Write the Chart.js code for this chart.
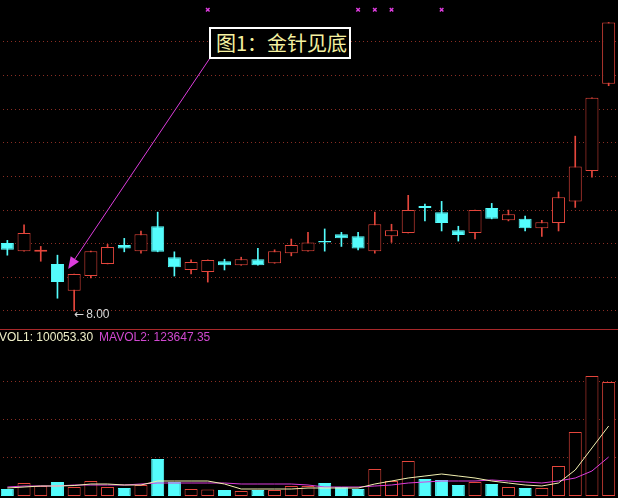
<!DOCTYPE html>
<html lang="zh-CN">
<head>
<meta charset="utf-8">
<title>金针见底</title>
<script src="https://cdn.jsdelivr.net/npm/chart.js@4.4.1/dist/chart.umd.min.js"></script>
<style>
  html, body { margin: 0; padding: 0; background: #000; }
  #quadro { position: relative; width: 618px; height: 498px; overflow: hidden; background: #000; }
  #graficoPreco { position: absolute; left: -1px; top: 0; }
  #graficoVolume { position: absolute; left: -1px; top: 330px; }
  #separador { position: absolute; left: 0; top: 329px; width: 618px; height: 1px; background: #a8282a; }
  #legendaVolume { position: absolute; left: -1px; top: 331px; font: 12px "Liberation Sans", Arial, sans-serif; line-height: 13px; white-space: nowrap; }
  #legendaVolume .ma1 { color: #f0f0c8; }
  #legendaVolume .ma2 { color: #d048d0; margin-left: 6px; }
  #rotulo { position: absolute; left: 209px; top: 27px; width: 142px; height: 32px; box-sizing: border-box; border: 2px solid #fff; background: #000; color: #f6f2a0; font: 20px "Noto Sans CJK SC", sans-serif; line-height: 28px; padding-left: 5px; white-space: nowrap; }
</style>
</head>
<body>
<div id="quadro">
  <canvas id="graficoPreco" width="618" height="329"></canvas>
  <div id="separador"></div>
  <canvas id="graficoVolume" width="618" height="168"></canvas>
  <div id="legendaVolume"><span class="ma1">VOL1: 100053.30</span><span class="ma2">MAVOL2: 123647.35</span></div>
  <div id="rotulo">图1：金针见底</div>
</div>
<script>
// Dados (37 pregões)
var dias = ['1', '2', '3', '4', '5', '6', '7', '8', '9', '10', '11', '12', '13', '14', '15', '16', '17', '18', '19',
    '20', '21', '22', '23', '24', '25', '26', '27', '28', '29', '30', '31', '32', '33', '34', '35', '36', '37'];

var abertura = [9.01, 8.89, 8.88, 8.70, 8.30, 8.52, 8.70, 8.98, 8.89, 9.26, 8.80, 8.61, 8.58, 8.74, 8.68, 8.77, 8.71, 8.86, 8.89,
    9.04, 9.14, 9.11, 8.89, 9.11, 9.16, 9.56, 9.47, 9.20, 9.16, 9.53, 9.35, 9.37, 9.23, 9.31, 9.63, 10.08, 11.38];
var fechamento = [8.91, 9.16, 8.91, 8.43, 8.55, 8.89, 8.95, 8.93, 9.14, 8.88, 8.65, 8.73, 8.76, 8.68, 8.77, 8.68, 8.89, 8.98, 9.02,
    9.02, 9.08, 8.93, 9.29, 9.20, 9.50, 9.53, 9.31, 9.13, 9.50, 9.37, 9.44, 9.23, 9.32, 9.69, 10.15, 11.17, 12.29];
var maxima = [9.05, 9.28, 8.96, 8.83, 8.55, 8.89, 8.99, 9.08, 9.19, 9.47, 8.88, 8.76, 8.76, 8.77, 8.80, 8.93, 8.91, 9.07, 9.17,
    9.22, 9.17, 9.17, 9.47, 9.29, 9.72, 9.59, 9.63, 9.26, 9.50, 9.60, 9.50, 9.41, 9.35, 9.77, 10.60, 11.17, 12.29];
var minima = [8.83, 8.89, 8.74, 8.19, 8.00, 8.49, 8.70, 8.88, 8.86, 8.88, 8.52, 8.55, 8.43, 8.61, 8.68, 8.68, 8.71, 8.82, 8.89,
    8.89, 8.96, 8.91, 8.86, 9.02, 9.16, 9.34, 9.19, 9.04, 9.07, 9.37, 9.34, 9.19, 9.11, 9.19, 9.54, 9.99, 11.35];

var volume = [73500, 136500, 105000, 147000, 94500, 157500, 94500, 84000, 115500, 388500, 147000, 73500, 68300, 63000, 52500,
    63000, 63000, 105000, 105000, 136500, 94500, 73500, 283500, 157500, 367500, 178500, 168000, 115500, 147000, 126000,
    94500, 84000, 84000, 315000, 672000, 1260000, 1197000];
var mavol1 = [84000, 94500, 105000, 105000, 110000, 126000, 126000, 115500, 115500, 157500, 157500, 157500, 157500, 126000,
    73500, 73500, 73500, 73500, 84000, 84000, 84000, 84000, 126000, 157500, 189000, 210000, 231000, 210000, 189000,
    157500, 136500, 115500, 105000, 136500, 273000, 504000, 735000];
var mavol2 = [94500, 105000, 105000, 105000, 115500, 115500, 115500, 115500, 126000, 136500, 136500, 136500, 136500, 136500,
    126000, 126000, 126000, 126000, 115500, 94500, 94500, 94500, 105000, 115500, 136500, 147000, 157500, 157500, 157500,
    168000, 157500, 147000, 136500, 157500, 189000, 262500, 409500];

var sinais = [12, 21, 22, 23, 26];      // marcadores × no topo
var nivelSinal = 12.48;
var indiceAgulha = 4;                    // o dia do 金针见底
var linhasPreco = [8, 8.5, 9, 9.5, 10, 10.5, 11, 11.5, 12];
var linhasVolume = [400000, 800000, 1200000];

var vermelho = '#e4463c';
var ciano = '#54fcfc';
var magenta = '#dc3cdc';
var corGrade = '#8a2e24';

var alta = fechamento.map((f, i) => f >= abertura[i]);

// seta magenta do quadro até o candle + rótulo da mínima
var setaAgulha = {
    id: 'setaAgulha',
    afterDatasetsDraw(chart) {
        var ctx = chart.ctx;
        var x = chart.scales.x, y = chart.scales.y;
        var cx = x.getPixelForValue(indiceAgulha);
        var pontaX = cx - 6, pontaY = y.getPixelForValue(maxima[indiceAgulha]) - 5;
        var inicioX = 211, inicioY = 58;
        var ang = Math.atan2(pontaY - inicioY, pontaX - inicioX);
        var c = Math.cos(ang), s = Math.sin(ang);

        ctx.save();
        ctx.strokeStyle = magenta;
        ctx.fillStyle = magenta;
        ctx.lineWidth = 1;
        ctx.beginPath();
        ctx.moveTo(inicioX, inicioY);
        ctx.lineTo(pontaX - 10 * c, pontaY - 10 * s);
        ctx.stroke();
        ctx.beginPath();
        ctx.moveTo(pontaX, pontaY);
        ctx.lineTo(pontaX - 12 * c + 5 * s, pontaY - 12 * s - 5 * c);
        ctx.lineTo(pontaX - 12 * c - 5 * s, pontaY - 12 * s + 5 * c);
        ctx.closePath();
        ctx.fill();

        // rótulo "←8.00" embaixo da agulha
        var yMin = y.getPixelForValue(minima[indiceAgulha]) + 4;
        ctx.fillStyle = '#d8d8d8';
        ctx.textBaseline = 'middle';
        ctx.font = '12px "DejaVu Sans", sans-serif';
        ctx.fillText('←', cx, yMin);
        ctx.font = '12px "Liberation Sans", Arial, sans-serif';
        ctx.fillText(minima[indiceAgulha].toFixed(2), cx + 12, yMin);
        ctx.restore();
    }
};

function eixoY(min, max, linhas) {
    return {
        min: min,
        max: max,
        afterBuildTicks: function(eixo) { eixo.ticks = linhas.map(v => ({ value: v })); },
        afterFit: function(eixo) { eixo.width = 0; },
        ticks: { display: false },
        grid: { color: corGrade, drawTicks: false },
        border: { display: false, dash: [1, 3] }
    };
}

// gráfico de candles
new Chart(document.getElementById('graficoPreco'), {
    type: 'bar',
    data: {
        labels: dias,
        datasets: [
            {
                type: 'line',
                data: dias.map((d, i) => sinais.includes(i) ? nivelSinal : null),
                showLine: false,
                pointStyle: 'crossRot',
                pointRadius: 2.5,
                pointBorderWidth: 1.5,
                pointBorderColor: magenta,
                pointBackgroundColor: magenta,
                order: 0
            },
            {
                data: abertura.map((a, i) => [a, fechamento[i]]),
                backgroundColor: alta.map(u => u ? '#000' : ciano),
                borderColor: alta.map(u => u ? vermelho : ciano),
                borderWidth: 1,
                borderSkipped: false,
                inflateAmount: 0,
                barThickness: 13,
                grouped: false,
                order: 1
            },
            {
                data: minima.map((m, i) => [m, maxima[i]]),
                backgroundColor: alta.map(u => u ? vermelho : ciano),
                borderWidth: 0,
                barThickness: 1,
                grouped: false,
                order: 2
            }
        ]
    },
    options: {
        responsive: false,
        animation: false,
        events: [],
        layout: { padding: 0, autoPadding: false },
        plugins: { legend: { display: false }, tooltip: { enabled: false } },
        scales: {
            x: { display: false },
            y: eixoY(7.7323, 12.6245, linhasPreco)
        }
    },
    plugins: [setaAgulha]
});

// gráfico de volume
new Chart(document.getElementById('graficoVolume'), {
    type: 'bar',
    data: {
        labels: dias,
        datasets: [
            { type: 'line', data: mavol1, borderColor: '#f2f0b0', borderWidth: 1, pointRadius: 0, tension: 0, order: 0 },
            { type: 'line', data: mavol2, borderColor: magenta, borderWidth: 1, pointRadius: 0, tension: 0, order: 1 },
            {
                data: volume,
                backgroundColor: alta.map(u => u ? '#000' : ciano),
                borderColor: alta.map(u => u ? vermelho : ciano),
                borderWidth: 1,
                borderSkipped: false,
                inflateAmount: 0,
                barThickness: 13,
                order: 2
            }
        ]
    },
    options: {
        responsive: false,
        animation: false,
        events: [],
        layout: { padding: { bottom: 2 }, autoPadding: false },
        plugins: { legend: { display: false }, tooltip: { enabled: false } },
        scales: {
            x: { display: false },
            y: eixoY(0, 1743000, linhasVolume)
        }
    }
});
</script>
</body>
</html>
